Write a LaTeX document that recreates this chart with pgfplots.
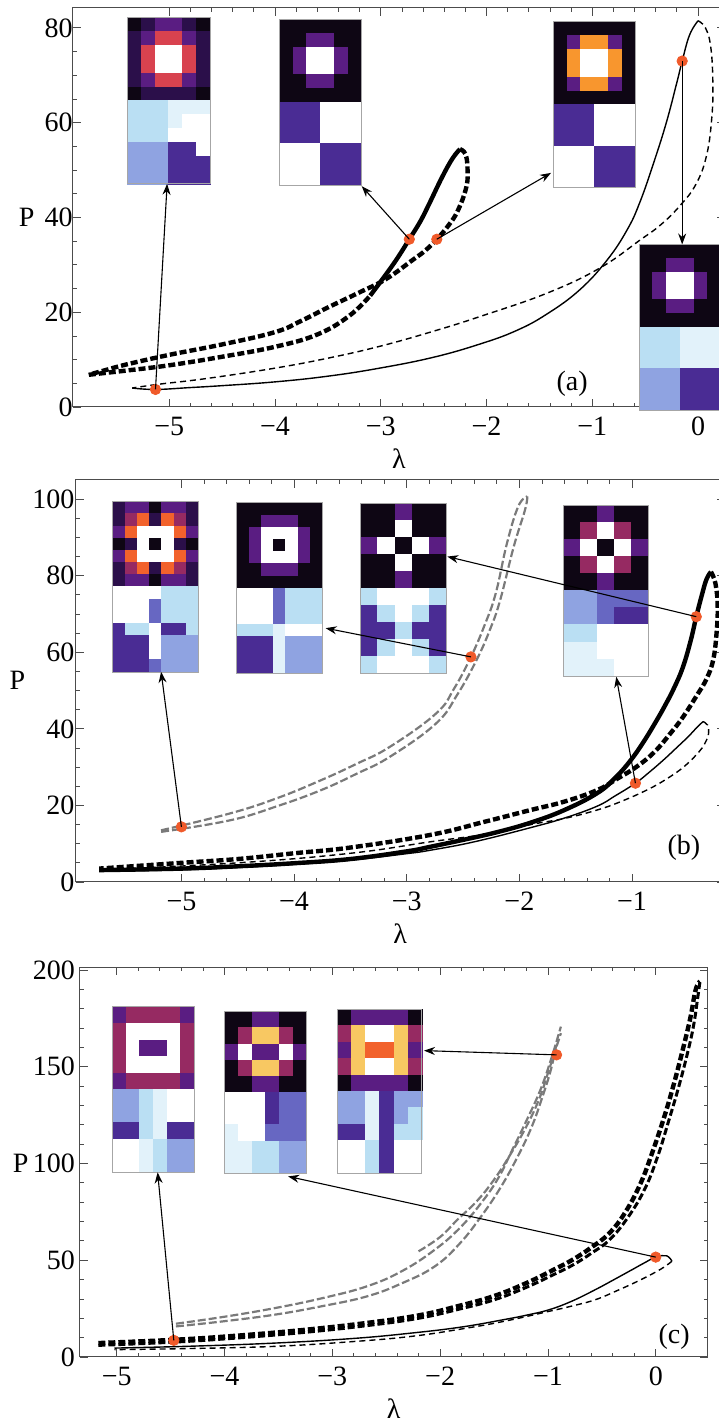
\documentclass[border=0pt]{standalone}
\usepackage{fontspec}
\setmainfont{Liberation Serif}
\usepackage{pgfplots}
\pgfplotsset{compat=1.18}
\usetikzlibrary{arrows.meta}

\definecolor{cK}{HTML}{0E0614}
\definecolor{cD}{HTML}{2B0F4A}
\definecolor{cP}{HTML}{5A1D82}
\definecolor{cM}{HTML}{962A62}
\definecolor{cR}{HTML}{D8424F}
\definecolor{cO}{HTML}{F8962E}
\definecolor{cQ}{HTML}{F2622C}
\definecolor{cY}{HTML}{F8C862}
\definecolor{cW}{HTML}{FFFFFF}
\definecolor{cB0}{HTML}{E2F2FA}
\definecolor{cB1}{HTML}{BADFF3}
\definecolor{cB2}{HTML}{8FA3E1}
\definecolor{cB3}{HTML}{6767C2}
\definecolor{cB4}{HTML}{4A2C94}
\definecolor{dotred}{HTML}{F05A2A}
\definecolor{curvegray}{HTML}{7A7A7A}

\newcommand\inset[5]{%
  \path (#1); \pgfgetlastxy{\ixa}{\iya}%
  \path (#2); \pgfgetlastxy{\ixb}{\iyb}%
  \pgfmathsetmacro\idx{(\ixb-\ixa)/#3}%
  \pgfmathsetmacro\idy{(\iya-\iyb)/#4}%
  \foreach \row [count=\r] in {#5} {%
    \foreach \c [count=\q] in \row {%
      \pgfmathsetmacro\cx{\ixa+(\q-1)*\idx}%
      \pgfmathsetmacro\cy{\iya-(\r-1)*\idy}%
      \fill[fill=c\c, draw=c\c, line width=0.25pt] (\cx pt,\cy pt) rectangle ++(\idx pt,-\idy pt);
    }%
  }%
  \draw[black!35, line width=0.3pt] (#1) rectangle (#2);
}

\pgfplotsset{
  myax/.style={
    scale only axis,
    axis line style={black!70, line width=0.5pt},
    every tick/.style={black!70, line width=0.4pt},
    tick align=inside,
    major tick length=4pt,
    minor tick length=2pt,
    xticklabel pos=lower, yticklabel pos=left,
    xtick pos=both, ytick pos=both,
    minor x tick num=4,
    every axis x label/.style={at={(axis description cs:0.5,0)}, anchor=center, yshift=-26pt},
    xticklabel style={yshift=-1.5pt},
    xlabel={λ},
    ylabel={P},
    every axis y label/.style={anchor=center},
  },
  thickdash/.style={black, line width=2.2pt, dash pattern=on 3.5pt off 1.5pt, smooth, tension=0.7},
  thicksolid/.style={black, line width=2.2pt, smooth, tension=0.7},
  thinsolid/.style={black, line width=0.7pt, smooth, tension=0.7},
  thindash/.style={black, line width=0.7pt, dash pattern=on 3pt off 2pt, smooth, tension=0.7},
  graydash/.style={curvegray, line width=1.1pt, dash pattern=on 4pt off 1.5pt, smooth, tension=0.7},
  reddot/.style={only marks, mark=*, mark size=2.6pt, color=dotred},
}
\tikzset{arr/.style={-{Stealth[length=5.5pt,width=4pt]}, line width=0.55pt, black}}

\begin{document}
\begin{tikzpicture}[font=\fontsize{14}{16}\selectfont]
\useasboundingbox (0,0) rectangle (359pt,712pt);

% ---------------- panel (a) ----------------
\begin{axis}[myax, at={(36.5pt,508.5pt)}, anchor=south west, width=326pt, height=199.5pt,
  xmin=-5.91, xmax=0.255, ymin=0, ymax=84.2,
  xtick={-5,-4,-3,-2,-1,0}, xticklabels={−5,−4,−3,−2,−1,0},
  ytick={0,20,40,60,80}, yticklabels={0,20,40,60,80}, minor y tick num=3,
  yticklabel style={xshift=3.3pt},
  every axis y label/.append style={at={(axis description cs:-0.071,0.476)}}]
\addplot[thickdash] coordinates {(-5.76,6.8) (-5.6,7.2) (-5.4,7.7) (-5.0,8.8) (-4.5,10.6) (-4.0,12.7) (-3.6,15.3) (-3.3,19.2) (-3.1,23.5)};
\addplot[thicksolid] coordinates {(-3.1,23.5) (-2.95,28) (-2.84,31.5) (-2.73,35.4) (-2.63,39) (-2.55,42.5) (-2.42,48.5) (-2.32,52.5) (-2.25,54.4)};
\addplot[thickdash] coordinates {(-2.25,54.4) (-2.2,53.4) (-2.18,50.5) (-2.19,46.5) (-2.27,41.5) (-2.36,38.3) (-2.47,35.4) (-2.58,33.0) (-2.7,31) (-2.95,27) (-3.2,24.2) (-3.5,21) (-3.75,18.2) (-4.0,15.8) (-4.5,13.2) (-5.0,11.0) (-5.4,9.0) (-5.6,7.8) (-5.76,6.8)};
\addplot[thinsolid] coordinates {(-5.35,4.0) (-5.13,3.7) (-4.8,4.1) (-4.5,4.5) (-4.0,5.3) (-3.5,6.5) (-3.01,8.2) (-2.5,10.5) (-2.06,13.3) (-1.72,16.1) (-1.43,19.6) (-1.12,24.7) (-0.86,31.0) (-0.67,37.4) (-0.55,43.2) (-0.42,51.5) (-0.3,60) (-0.2,68.5) (-0.15,73) (-0.08,78.5) (0.0,81.5)};
\addplot[thindash] coordinates {(0.0,81.5) (0.07,80) (0.12,76) (0.14,68.5) (0.13,61) (0.08,53) (-0.02,47) (-0.17,42.5) (-0.35,38.5) (-0.55,35.2) (-0.93,29.3) (-1.43,24.0) (-2.06,19.1) (-2.5,16.0) (-3.01,12.8) (-3.5,10.3) (-4.0,8.2) (-4.65,6.0) (-5.1,4.8) (-5.35,4.0)};
\addplot[reddot] coordinates {(-5.13,3.7) (-2.73,35.4) (-2.47,35.4) (-0.15,73)};
\node at (axis cs:-1.19,5.0) {(a)};
\coordinate (pa1) at (axis cs:-5.13,3.7);   \coordinate (ea1) at (axis cs:-5.02,47.1);
\coordinate (pa2) at (axis cs:-2.73,35.4);  \coordinate (ea2) at (axis cs:-3.18,46.6);
\coordinate (pa3) at (axis cs:-2.47,35.4);  \coordinate (ea3) at (axis cs:-1.39,49.4);
\coordinate (pa4) at (axis cs:-0.15,73);    \coordinate (ea4) at (axis cs:-0.15,34.3);
\coordinate (ia1a) at (axis cs:-5.40,82.2); \coordinate (ia1b) at (axis cs:-4.61,47.1);
\coordinate (ia2a) at (axis cs:-3.96,81.8); \coordinate (ia2b) at (axis cs:-3.18,46.8);
\coordinate (ia3a) at (axis cs:-1.37,81.3); \coordinate (ia3b) at (axis cs:-0.59,46.3);
\coordinate (ia4a) at (axis cs:-0.56,34.3); \coordinate (ia4b) at (axis cs:0.22,-0.6);
\end{axis}
\inset{ia1a}{ia1b}{6}{12}{{K,D,P,P,D,K},{D,P,R,R,P,D},{D,R,W,W,R,D},{D,R,W,W,R,D},{D,P,R,R,P,D},{K,D,D,D,D,K},{B1,B1,B1,B0,B0,B0},{B1,B1,B1,B0,W,W},{B1,B1,B1,W,W,W},{B2,B2,B2,B4,B4,W},{B2,B2,B2,B4,B4,B4},{B2,B2,B2,B4,B4,B4}}
\inset{ia2a}{ia2b}{6}{12}{{K,K,K,K,K,K},{K,K,P,P,K,K},{K,P,W,W,P,K},{K,P,W,W,P,K},{K,K,P,P,K,K},{K,K,K,K,K,K},{B4,B4,B4,W,W,W},{B4,B4,B4,W,W,W},{B4,B4,B4,W,W,W},{W,W,W,B4,B4,B4},{W,W,W,B4,B4,B4},{W,W,W,B4,B4,B4}}
\inset{ia3a}{ia3b}{6}{12}{{K,K,K,K,K,K},{K,P,O,O,P,K},{K,O,W,W,O,K},{K,O,W,W,O,K},{K,P,O,O,P,K},{K,K,K,K,K,K},{B4,B4,B4,W,W,W},{B4,B4,B4,W,W,W},{B4,B4,B4,W,W,W},{W,W,W,B4,B4,B4},{W,W,W,B4,B4,B4},{W,W,W,B4,B4,B4}}
\inset{ia4a}{ia4b}{6}{12}{{K,K,K,K,K,K},{K,K,P,P,K,K},{K,P,W,W,P,K},{K,P,W,W,P,K},{K,K,P,P,K,K},{K,K,K,K,K,K},{B1,B1,B1,B0,B0,B0},{B1,B1,B1,B0,B0,B0},{B1,B1,B1,B0,B0,B0},{B2,B2,B2,B4,B4,B4},{B2,B2,B2,B4,B4,B4},{B2,B2,B2,B4,B4,B4}}
\draw[arr] (pa1) -- (ea1);
\draw[arr] (pa2) -- (ea2);
\draw[arr] (pa3) -- (ea3);
\draw[arr] (pa4) -- (ea4);

% ---------------- panel (b) ----------------
\begin{axis}[myax, at={(37.75pt,271pt)}, anchor=south west, width=324.75pt, height=201pt,
  xmin=-5.94, xmax=-0.175, ymin=0, ymax=105,
  xtick={-5,-4,-3,-2,-1}, xticklabels={−5,−4,−3,−2,−1},
  ytick={0,20,40,60,80,100}, yticklabels={0,20,40,60,80,100}, minor y tick num=3,
  yticklabel style={xshift=3pt},
  every axis y label/.append style={at={(axis description cs:-0.0895,0.502)}}]
\addplot[graydash] coordinates {(-5.18,13.5) (-4.57,17.9) (-4.15,21.9) (-3.76,26.6) (-3.45,30.8) (-3.15,35.3) (-2.74,44.0) (-2.58,50.5) (-2.43,58.8) (-2.31,67) (-2.21,75.4) (-2.11,88.5) (-2.01,98.1) (-1.93,100.7)};
\addplot[graydash] coordinates {(-5.18,13.1) (-4.57,16.1) (-4.15,19.8) (-3.76,24.0) (-3.45,28.2) (-3.15,32.7) (-2.74,41.4) (-2.55,49) (-2.38,58) (-2.26,66) (-2.17,73.7) (-2.05,87.6) (-1.95,97.2) (-1.93,100.7)};
\addplot[thicksolid] coordinates {(-5.73,3.1) (-5,3.5) (-4.5,4.1) (-4,4.9) (-3.5,6.0) (-3.0,8.0) (-2.79,9.2) (-2.5,11.0) (-2.2,13.0) (-1.9,15.5) (-1.6,18.8) (-1.31,23.2) (-1.15,27.2) (-1.02,31.5) (-0.9,36.5) (-0.78,42.3) (-0.7,46.5) (-0.63,50.5) (-0.55,56) (-0.48,63) (-0.43,69.3) (-0.38,75) (-0.34,79) (-0.3,81)};
\addplot[thickdash] coordinates {(-0.3,81) (-0.26,78) (-0.24,72) (-0.25,65) (-0.28,58) (-0.34,53) (-0.43,48.5) (-0.55,43) (-0.66,38.8) (-0.8,34) (-0.96,30.1) (-1.13,27) (-1.31,24.0) (-1.6,21) (-1.9,18.8) (-2.3,15.8) (-2.79,12.3) (-3.5,9.0) (-4.0,7.5) (-4.5,6.0) (-5.0,5.0) (-5.73,3.5)};
\addplot[thinsolid] coordinates {(-5.7,2.8) (-5,3.2) (-4.5,3.8) (-4,4.6) (-3.5,5.7) (-3,7.4) (-2.79,8.3) (-2.4,10.5) (-1.9,14.2) (-1.6,16.7) (-1.31,19.8) (-1.15,22.5) (-0.97,25.8) (-0.85,28.6) (-0.72,31.9) (-0.6,35.2) (-0.5,38) (-0.43,40.2) (-0.37,41.9)};
\addplot[thindash] coordinates {(-0.37,41.9) (-0.33,41) (-0.32,39) (-0.34,37) (-0.4,34.2) (-0.54,30.1) (-0.7,26.8) (-0.87,24.0) (-1.1,21) (-1.31,18.8) (-1.6,16.6) (-1.9,15.0) (-2.3,12.5) (-2.79,10.5) (-3.5,7.5) (-4.5,5.0) (-5.7,3.2)};
\addplot[reddot] coordinates {(-5.0,14.4) (-2.43,58.8) (-0.97,25.8) (-0.43,69.3)};
\node at (axis cs:-0.54,9.0) {(b)};
\coordinate (pb1) at (axis cs:-5.0,14.4);   \coordinate (eb1) at (axis cs:-5.18,54.9);
\coordinate (pb2) at (axis cs:-2.43,58.8);  \coordinate (eb2) at (axis cs:-3.72,66.3);
\coordinate (pb3) at (axis cs:-0.97,25.8);  \coordinate (eb3) at (axis cs:-1.14,53.6);
\coordinate (pb4) at (axis cs:-0.43,69.3);  \coordinate (eb4) at (axis cs:-2.64,85.0);
\coordinate (ib1a) at (axis cs:-5.61,99.4); \coordinate (ib1b) at (axis cs:-4.85,54.9);
\coordinate (ib2a) at (axis cs:-4.51,99.1); \coordinate (ib2b) at (axis cs:-3.75,54.5);
\coordinate (ib3a) at (axis cs:-3.41,99.0); \coordinate (ib3b) at (axis cs:-2.65,54.5);
\coordinate (ib4a) at (axis cs:-1.61,98.5); \coordinate (ib4b) at (axis cs:-0.86,53.8);
\end{axis}
\inset{ib1a}{ib1b}{7}{14}{{D,P,P,K,P,P,D},{D,M,Q,D,Q,M,D},{P,Q,W,W,W,Q,P},{K,D,W,K,W,D,K},{P,Q,W,W,W,Q,P},{D,M,Q,D,Q,M,D},{D,P,P,K,P,P,D},{W,W,W,W,B1,B1,B1},{W,W,W,B3,B1,B1,B1},{W,W,W,B3,B1,B1,B1},{B4,B1,B1,W,B4,B4,B1},{B4,B4,B4,W,B2,B2,B2},{B4,B4,B4,W,B2,B2,B2},{B4,B4,B4,B3,B2,B2,B2}}
\inset{ib2a}{ib2b}{7}{14}{{K,K,K,K,K,K,K},{K,K,P,P,P,K,K},{K,P,W,W,W,P,K},{K,P,W,K,W,P,K},{K,P,W,W,W,P,K},{K,K,P,P,P,K,K},{K,K,K,K,K,K,K},{W,W,W,B3,B1,B1,B1},{W,W,W,B3,B1,B1,B1},{W,W,W,B3,B1,B1,B1},{B1,B1,B1,B0,W,W,W},{B4,B4,B4,B0,B2,B2,B2},{B4,B4,B4,B0,B2,B2,B2},{B4,B4,B4,B0,B2,B2,B2}}
\inset{ib3a}{ib3b}{5}{10}{{K,K,P,K,K},{K,K,W,K,K},{P,W,K,W,P},{K,K,W,K,K},{K,K,P,K,K},{B1,W,W,W,B1},{B4,B1,W,B1,B4},{B4,B4,B1,B4,B4},{B4,B1,W,B1,B4},{B1,W,W,W,B1}}
\inset{ib4a}{ib4b}{5}{10}{{K,K,P,K,K},{K,M,W,M,K},{P,W,K,W,P},{K,M,W,M,K},{K,K,P,K,K},{B2,B2,B3,B3,B3},{B2,B2,B3,B4,B4},{B1,B1,W,W,W},{B0,B0,W,W,W},{B0,B0,B0,W,W}}
\draw[arr] (pb1) -- (eb1);
\draw[arr] (pb2) -- (eb2);
\draw[arr] (pb3) -- (eb3);
\draw[arr] (pb4) -- (eb4);

% ---------------- panel (c) ----------------
\begin{axis}[myax, at={(40pt,33.5pt)}, anchor=south west, width=313.75pt, height=195pt,
  xmin=-5.34, xmax=0.48, ymin=0, ymax=201.5,
  xtick={-5,-4,-3,-2,-1,0}, xticklabels={−5,−4,−3,−2,−1,0},
  ytick={0,50,100,150,200}, yticklabels={0,50,100,150,200}, minor y tick num=4,
  yticklabel style={xshift=1pt},
  every axis y label/.append style={at={(axis description cs:-0.0947,0.497)}}]
\addplot[graydash] coordinates {(-4.45,17.2) (-4.0,20.8) (-3.53,25.3) (-3.1,30.3) (-2.68,36.5) (-2.35,44.5) (-2.05,55.4) (-1.82,66.5) (-1.62,79.5) (-1.46,92.5) (-1.33,107.1) (-1.2,122) (-1.07,138) (-0.97,154) (-0.88,170.7)};
\addplot[graydash] coordinates {(-4.45,15.8) (-4.0,18.5) (-3.53,21.9) (-3.1,26.2) (-2.68,31.3) (-2.35,38.2) (-2.05,46.8) (-1.82,58.5) (-1.62,72.6) (-1.44,87.5) (-1.28,103.6) (-1.15,119) (-1.05,134.6) (-0.97,149) (-0.92,162.1)};
\addplot[graydash] coordinates {(-2.2,54.6) (-2.0,62.0) (-1.84,70.9) (-1.66,80.5) (-1.5,91.6) (-1.35,104.5) (-1.2,119.1) (-1.08,133.5) (-0.99,148.4) (-0.88,167.3)};
\addplot[thickdash] coordinates {(-5.17,7.2) (-4.5,8.8) (-3.96,10.7) (-3.3,13.8) (-2.68,17.6) (-2.2,21.5) (-1.84,26.2) (-1.5,31.5) (-1.2,38.2) (-0.95,45) (-0.77,50.3) (-0.6,56.5) (-0.43,64.0) (-0.28,75) (-0.14,89.8) (-0.03,106) (0.08,124.3) (0.17,141.5) (0.25,158.7) (0.32,175) (0.37,189.7) (0.41,194)};
\addplot[thickdash, line width=1.5pt] coordinates {(-5.17,6.0) (-4.5,7.6) (-3.96,9.5) (-3.3,12.5) (-2.68,16.2) (-2.2,20) (-1.84,24.5) (-1.5,29.5) (-1.2,36) (-0.95,42.5) (-0.77,47.5) (-0.6,53.5) (-0.43,60.5) (-0.26,72) (-0.10,87) (0.02,104) (0.12,122) (0.21,139) (0.29,156) (0.35,171) (0.39,186) (0.41,194)};
\addplot[thinsolid] coordinates {(-5.02,4.6) (-4.3,5.6) (-3.53,7.2) (-2.8,9.6) (-2.26,12.4) (-1.8,15.5) (-1.41,19.3) (-1.2,21.6) (-0.99,24.4) (-0.78,28.8) (-0.56,34.8) (-0.38,40.2) (-0.22,45.1) (-0.1,48.8) (0.0,51.6) (0.1,52.3) (0.15,49.5)};
\addplot[thindash] coordinates {(0.15,49.5) (0.05,45.5) (-0.14,39.9) (-0.35,34.5) (-0.56,29.6) (-0.78,26.3) (-0.99,23.6) (-1.41,18.4) (-1.8,14.5) (-2.26,10.7) (-2.8,8.0) (-3.53,5.5) (-4.3,4.4) (-5.02,3.8)};
\addplot[reddot] coordinates {(-4.47,8.6) (-0.92,156.1) (0,51.6)};
\node at (axis cs:0.17,10.3) {(c)};
\coordinate (pc1) at (axis cs:-4.47,8.6);   \coordinate (ec1) at (axis cs:-4.62,95.4);
\coordinate (pc2) at (axis cs:-0.92,156.1); \coordinate (ec2) at (axis cs:-2.15,158.3);
\coordinate (pc3) at (axis cs:0,51.6);      \coordinate (ec3) at (axis cs:-3.41,93.3);
\coordinate (ic1a) at (axis cs:-5.04,181);  \coordinate (ic1b) at (axis cs:-4.28,95.5);
\coordinate (ic2a) at (axis cs:-4.0,178.5); \coordinate (ic2b) at (axis cs:-3.24,95.0);
\coordinate (ic3a) at (axis cs:-2.95,179.9); \coordinate (ic3b) at (axis cs:-2.17,94.7);
\end{axis}
\inset{ic1a}{ic1b}{6}{10}{{P,M,M,M,M,P},{M,W,W,W,W,M},{M,W,P,P,W,M},{M,W,W,W,W,M},{P,M,M,M,M,P},{B2,B2,B1,B0,W,W},{B2,B2,B1,B0,W,W},{B4,B4,B1,B0,B4,B4},{W,W,B0,B1,B2,B2},{W,W,B0,B1,B2,B2}}
\inset{ic2a}{ic2b}{6}{10}{{K,K,P,P,K,K},{K,M,Y,Y,M,K},{P,W,P,P,W,P},{K,M,Y,Y,M,K},{K,K,P,P,K,K},{W,W,W,B4,B3,B3},{W,W,W,B4,B3,B3},{B0,W,W,B3,B3,B3},{B0,B0,B1,B1,B2,B2},{B0,B0,B1,B1,B2,B2}}
\inset{ic3a}{ic3b}{6}{10}{{K,P,P,P,P,K},{M,Y,W,W,Y,M},{P,Y,Q,Q,Y,P},{M,Y,W,W,Y,M},{K,P,P,P,P,K},{B2,B2,B0,B4,B2,B2},{B2,B2,B0,B4,B2,B1},{B4,B4,B0,B4,B1,B1},{W,W,B1,B4,W,W},{W,W,B1,B4,W,W}}
\draw[arr] (pc1) -- (ec1);
\draw[arr] (pc2) -- (ec2);
\draw[arr] (pc3) -- (ec3);
\end{tikzpicture}
\end{document}
